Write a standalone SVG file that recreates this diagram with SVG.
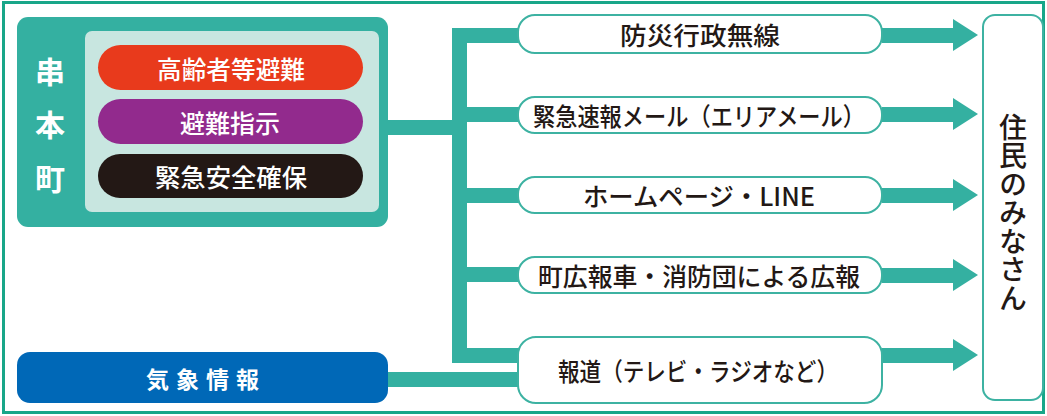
<svg xmlns="http://www.w3.org/2000/svg" width="1047" height="416" viewBox="0 0 1047 416">
<style>
.jp{font-family:"Noto Sans CJK JP","Noto Sans",sans-serif}
.pill{font-size:25px;font-weight:500;fill:#fff;text-anchor:middle;dominant-baseline:central}
.lbl{font-size:25px;font-weight:500;fill:#231815;text-anchor:middle;dominant-baseline:central}
.box{fill:#fff;stroke:#3db2a2;stroke-width:2}
.tl{fill:#34b0a1}
</style>
<rect x="3.5" y="2.5" width="1040" height="410" fill="#fff" stroke="#18a689" stroke-width="3"/>
<g id="connectors" class="tl">
<rect x="386" y="120" width="76" height="15"/>
<rect x="452" y="28" width="15" height="335"/>
<rect x="452" y="28" width="68" height="15"/>
<rect x="452" y="107" width="68" height="15"/>
<rect x="452" y="188" width="68" height="15"/>
<rect x="452" y="267" width="68" height="15"/>
<rect x="452" y="348" width="68" height="15"/>
<rect x="386" y="372" width="134" height="15"/>
<polygon points="882,28 953,28 953,19 978,35 953,51 953,43 882,43"/>
<polygon points="882,107 953,107 953,98 978,114 953,130 953,122 882,122"/>
<polygon points="882,188 953,188 953,179 978,195 953,211 953,203 882,203"/>
<polygon points="882,268 953,268 953,259 978,275 953,291 953,283 882,283"/>
<polygon points="882,348 953,348 953,339 978,355 953,371 953,363 882,363"/>
</g>
<g id="kushimoto">
<rect x="17" y="17" width="371" height="210" rx="11" fill="#34b0a1"/>
<rect x="85" y="31" width="294" height="181" rx="7" fill="#c8e6e0"/>
<text class="jp" x="50" y="70" font-size="30" font-weight="bold" fill="#fff" text-anchor="middle" dominant-baseline="central">串</text>
<text class="jp" x="50" y="123" font-size="30" font-weight="bold" fill="#fff" text-anchor="middle" dominant-baseline="central">本</text>
<text class="jp" x="50" y="177" font-size="30" font-weight="bold" fill="#fff" text-anchor="middle" dominant-baseline="central">町</text>
</g>
<g id="elderly">
<rect x="98" y="45" width="265" height="45" rx="22.5" fill="#e83a1c"/>
<text class="jp pill" x="231" y="67.5" textLength="148" lengthAdjust="spacingAndGlyphs">高齢者等避難</text>
</g>
<g id="order">
<rect x="98" y="99" width="265" height="45" rx="22.5" fill="#922a8d"/>
<text class="jp pill" x="230" y="121.5" textLength="100" lengthAdjust="spacingAndGlyphs">避難指示</text>
</g>
<g id="emergency">
<rect x="98" y="154" width="265" height="44" rx="22" fill="#231815"/>
<text class="jp pill" x="231" y="176" textLength="152" lengthAdjust="spacingAndGlyphs">緊急安全確保</text>
</g>
<g id="weather">
<rect x="17" y="352" width="371" height="51" rx="13" fill="#0068b7"/>
<text class="jp" x="206" y="378" font-size="23" font-weight="bold" fill="#fff" text-anchor="middle" dominant-baseline="central" letter-spacing="7">気象情報</text>
</g>
<g id="musen">
<rect class="box" x="518" y="15" width="364" height="38" rx="17"/>
<text class="jp lbl" x="700" y="34" textLength="160" lengthAdjust="spacingAndGlyphs">防災行政無線</text>
</g>
<g id="mail">
<rect class="box" x="518" y="97" width="364" height="36" rx="17"/>
<text class="jp lbl" x="699" y="115" textLength="332" lengthAdjust="spacingAndGlyphs">緊急速報メール（エリアメール）</text>
</g>
<g id="web">
<rect class="box" x="518" y="177" width="364" height="36" rx="17"/>
<text class="jp lbl" x="699" y="195" textLength="232" lengthAdjust="spacingAndGlyphs">ホームページ・LINE</text>
</g>
<g id="car">
<rect class="box" x="518" y="257" width="364" height="36" rx="17"/>
<text class="jp lbl" x="699" y="275" textLength="322" lengthAdjust="spacingAndGlyphs">町広報車・消防団による広報</text>
</g>
<g id="media">
<rect class="box" x="518" y="337" width="364" height="66" rx="18"/>
<text class="jp lbl" x="698" y="370" textLength="280" lengthAdjust="spacingAndGlyphs">報道（テレビ・ラジオなど）</text>
</g>
<g id="residents">
<rect class="box" x="983" y="15" width="60" height="385" rx="12"/>
<text class="jp" x="1013" y="213" font-size="28" font-weight="500" fill="#231815" text-anchor="middle" writing-mode="vertical-rl" letter-spacing="0.5">住民のみなさん</text>
</g>
</svg>
